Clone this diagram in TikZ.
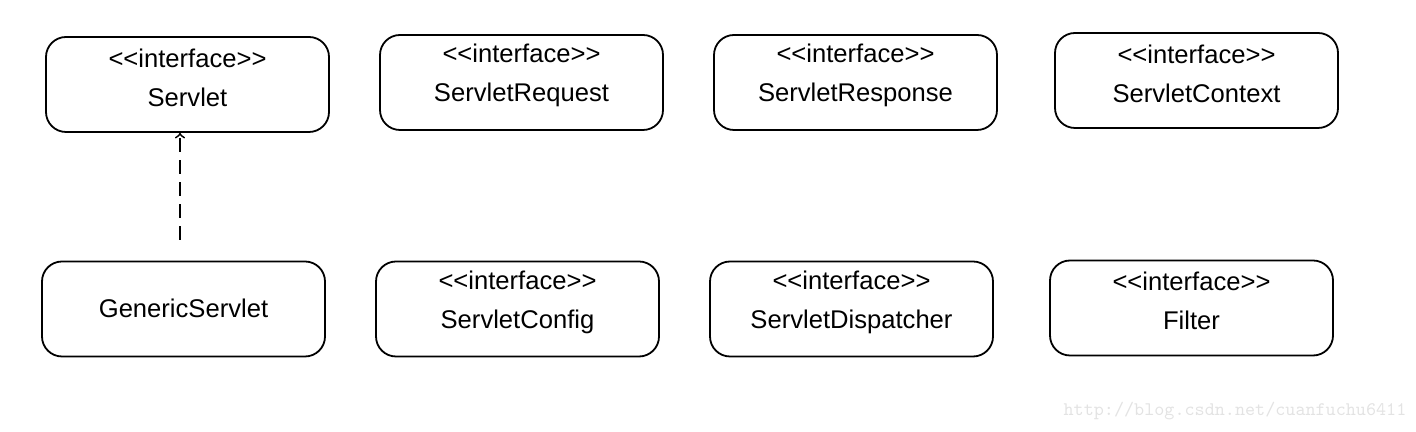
\documentclass[tikz,border=0pt]{standalone}
\usepackage{fontspec}
\setmainfont{Liberation Sans}
\usepackage{tikz}
\usetikzlibrary{arrows, shapes, calc}

\begin{document}
\begin{tikzpicture}[x=0.5pt, y=0.5pt]
	\tikzstyle{iface}=[rectangle, rounded corners=10pt, line width=0.9pt, draw=black, minimum width=141.5pt, minimum height=47.5pt]
	\tikzstyle{iflabel}=[align=center, font=\fontsize{12.8}{19.5}\selectfont, yshift=3.5pt]
	\tikzstyle{connect}=[->, line width=0.9pt, dash pattern=on 7pt off 4pt]
	\tikzstyle{watermark}=[text=black!11, font=\ttfamily\fontsize{9.6}{10}\selectfont]
	\useasboundingbox (0,0) rectangle (1416,432);
	% top row
	\node[iface, label={[iflabel]center:{<{}<interface>{}>\\Servlet}}] (servlet) at (187.5,347.5) {};
	\node[iface, label={[iflabel]center:{<{}<interface>{}>\\ServletRequest}}] (request) at (521.5,349.5) {};
	\node[iface, label={[iflabel]center:{<{}<interface>{}>\\ServletResponse}}] (response) at (855.5,349.5) {};
	\node[iface, label={[iflabel]center:{<{}<interface>{}>\\ServletContext}}] (context) at (1196.5,351.5) {};
	% bottom row
	\node[iface, label={[iflabel, yshift=-3pt]center:GenericServlet}] (generic) at (183.5,123) {};
	\node[iface, label={[iflabel]center:{<{}<interface>{}>\\ServletConfig}}] (config) at (517.5,123) {};
	\node[iface, label={[iflabel]center:{<{}<interface>{}>\\ServletDispatcher}}] (dispatcher) at (851.5,123) {};
	\node[iface, label={[iflabel]center:{<{}<interface>{}>\\Filter}}] (filter) at (1191.5,124) {};
	\coordinate (genericTop) at (180,192);
	\draw[connect] (genericTop) -- (genericTop |- servlet.south);
	\node[watermark] (mark) at (1235,21) {http://blog.csdn.net/cuanfuchu6411};
\end{tikzpicture}
\end{document}
